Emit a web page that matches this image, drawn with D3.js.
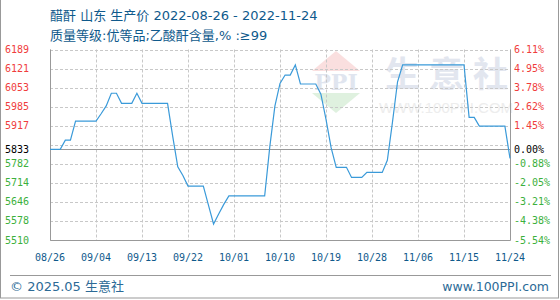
<!DOCTYPE html>
<html>
<head>
<meta charset="utf-8">
<script src="https://cdn.jsdelivr.net/npm/d3@7"></script>
<style>
body { margin: 0; background: #fff; }
svg { display: block; }
</style>
</head>
<body>
<svg id="chart" width="560" height="300"></svg>
<script>
var titleLines = ['醋酐 山东 生产价 2022-08-26 - 2022-11-24', '质量等级:优等品;乙酸酐含量,% :≥99'];
var startDate = '2022-08-26';
var endDate = '2022-11-24';
var baseValue = 5833;

// daily prices
var prices = [5833, 5833, 5833, 5866, 5866, 5934, 5934, 5934, 5934, 5934,
	5960, 5988, 6033, 6033, 5997, 5997, 5997, 6033, 5997, 5997,
	5997, 5997, 5997, 5997, 5880, 5771, 5740, 5702, 5702, 5702,
	5702, 5634, 5567, 5603, 5637, 5667, 5667, 5667, 5667, 5667,
	5667, 5667, 5667, 5842, 5987, 6068, 6098, 6098, 6134, 6066,
	6066, 6066, 6066, 6030, 5940, 5839, 5769, 5769, 5769, 5733,
	5733, 5733, 5751, 5751, 5751, 5751, 5794, 5929, 6074, 6134,
	6134, 6134, 6134, 6134, 6134, 6134, 6134, 6134, 6134, 6134,
	6134, 6134, 5947, 5947, 5916, 5916, 5916, 5916, 5916, 5916,
	5801];

var gridValues = [6189, 6121.1, 6053.2, 5985.3, 5917.4, 5849.5, 5781.6, 5713.7, 5645.8, 5577.9, 5510];
var leftLabels = [6189, 6121, 6053, 5985, 5917, 5833, 5782, 5714, 5646, 5578, 5510];
var rightLabels = ['6.11%', '4.95%', '3.78%', '2.62%', '1.45%', '0.00%', '-0.88%', '-2.05%', '-3.21%', '-4.38%', '-5.54%'];
var xTickLabels = ['08/26', '09/04', '09/13', '09/22', '10/01', '10/10', '10/19', '10/28', '11/06', '11/15', '11/24'];

var svg = d3.select('#chart');
var plotLeft = 50, plotRight = 510, plotTop = 49.5, plotBottom = 240;
var monoFont = '"DejaVu Sans Mono", monospace';
var textFont = '"DejaVu Sans", "Noto Sans CJK SC", sans-serif';
var blue = '#0f5a8c';

var parse = d3.timeParse('%Y-%m-%d');
var t0 = parse(startDate);
var data = prices.map((v, i) => ({date: d3.timeDay.offset(t0, i), value: v}));

var x = d3.scaleTime()
	.domain([t0, parse(endDate)])
	.range([plotLeft, plotRight]);
var y = d3.scaleLinear()
	.domain([5510, 6189])
	.range([plotBottom, plotTop]);

// outer frame
svg.append('rect')
	.attr('x', 0.5).attr('y', -1)
	.attr('width', 558).attr('height', 299)
	.attr('fill', 'none')
	.attr('stroke', '#999');

// title
svg.selectAll('text.title')
	.data(titleLines)
	.enter()
	.append('text')
	.attr('class', 'title')
	.attr('x', plotLeft)
	.attr('y', (d, i) => 20 + i * 20)
	.attr('font-family', textFont)
	.attr('font-size', 13)
	.attr('fill', blue)
	.text(d => d);

// watermark
var wm = svg.append('g').attr('opacity', 0.9);
wm.append('path')
	.attr('d', 'M312,71 L336,51 L360,71 Z')
	.attr('fill', '#fadcdc');
wm.append('text')
	.attr('x', 336).attr('y', 90)
	.attr('text-anchor', 'middle')
	.attr('font-family', 'DejaVu Serif, serif')
	.attr('font-weight', 'bold')
	.attr('font-size', 22)
	.attr('fill', '#dde3ee')
	.text('PPI');
wm.append('path')
	.attr('d', 'M312,93 L336,113 L360,93 Z')
	.attr('fill', '#dcf0dc');
wm.append('text')
	.attr('x', 385).attr('y', 87)
	.attr('font-family', '"Noto Sans CJK SC", sans-serif')
	.attr('font-weight', 'bold')
	.attr('font-size', 35)
	.attr('letter-spacing', 9)
	.attr('fill', '#dfe4ee')
	.text('生意社');
wm.append('text')
	.attr('x', 446).attr('y', 113)
	.attr('text-anchor', 'middle')
	.attr('font-family', '"Liberation Sans", sans-serif')
	.attr('font-size', 15)
	.attr('fill', '#ececec')
	.text('WWW.100PPI.COM');

// horizontal grid
svg.selectAll('line.hgrid')
	.data(gridValues)
	.enter()
	.append('line')
	.attr('class', 'hgrid')
	.attr('x1', plotLeft).attr('x2', plotRight)
	.attr('y1', d => Math.round(y(d)) + 0.5)
	.attr('y2', d => Math.round(y(d)) + 0.5)
	.attr('stroke', '#c8c8c8')
	.attr('stroke-dasharray', '3,2');

// vertical grid
var tickDates = xTickLabels.map((d, i) => d3.timeDay.offset(t0, i * 9));
svg.selectAll('line.vgrid')
	.data(tickDates)
	.enter()
	.append('line')
	.attr('class', 'vgrid')
	.attr('x1', d => Math.round(x(d)) + 0.5)
	.attr('x2', d => Math.round(x(d)) + 0.5)
	.attr('y1', plotTop).attr('y2', plotBottom)
	.attr('stroke', '#c8c8c8')
	.attr('stroke-dasharray', '3,2');

// base line
svg.append('line')
	.attr('x1', plotLeft).attr('x2', plotRight)
	.attr('y1', Math.round(y(baseValue)) + 0.5)
	.attr('y2', Math.round(y(baseValue)) + 0.5)
	.attr('stroke', '#999');

// frame left, bottom, right
svg.append('path')
	.attr('d', 'M' + (plotLeft + 0.5) + ',' + plotTop + 'V' + (plotBottom + 0.5) + 'H' + (plotRight + 0.5) + 'V' + plotTop)
	.attr('fill', 'none')
	.attr('stroke', '#999');

// price line
var line = d3.line()
	.x(d => x(d.date))
	.y(d => y(d.value));
svg.append('path')
	.datum(data)
	.attr('d', line)
	.attr('fill', 'none')
	.attr('stroke', '#3a9ad9')
	.attr('stroke-width', 1.2);

var labelColor = function(v) {
	if (v > baseValue) return '#f03c3c';
	if (v < baseValue) return '#3cb03c';
	return '#000';
};

// left axis labels
svg.selectAll('text.ylab')
	.data(leftLabels)
	.enter()
	.append('text')
	.attr('class', 'ylab')
	.attr('x', 5)
	.attr('y', d => y(d) + 3.5)
	.attr('font-family', monoFont)
	.attr('font-size', 10)
	.attr('fill', labelColor)
	.text(d => d);

// right axis labels
svg.selectAll('text.rlab')
	.data(rightLabels)
	.enter()
	.append('text')
	.attr('class', 'rlab')
	.attr('x', 514)
	.attr('y', (d, i) => y(leftLabels[i]) + 3.5)
	.attr('font-family', monoFont)
	.attr('font-size', 10)
	.attr('fill', (d, i) => labelColor(leftLabels[i]))
	.text(d => d);

// x labels
svg.selectAll('text.xlab')
	.data(xTickLabels)
	.enter()
	.append('text')
	.attr('class', 'xlab')
	.attr('x', (d, i) => x(tickDates[i]))
	.attr('y', 261)
	.attr('text-anchor', 'middle')
	.attr('font-family', monoFont)
	.attr('font-size', 10)
	.attr('fill', blue)
	.text(d => d);

// footer
svg.append('line')
	.attr('x1', 10).attr('x2', 551)
	.attr('y1', 275.5).attr('y2', 275.5)
	.attr('stroke', '#999');
svg.append('text')
	.attr('x', 10).attr('y', 291)
	.attr('font-family', textFont)
	.attr('font-size', 13)
	.attr('fill', '#2c6a96')
	.text('© 2025.05 生意社');
svg.append('text')
	.attr('x', 549).attr('y', 291)
	.attr('text-anchor', 'end')
	.attr('font-family', textFont)
	.attr('font-size', 12.5)
	.attr('fill', '#2c6a96')
	.text('www.100PPI.com');
</script>
</body>
</html>
